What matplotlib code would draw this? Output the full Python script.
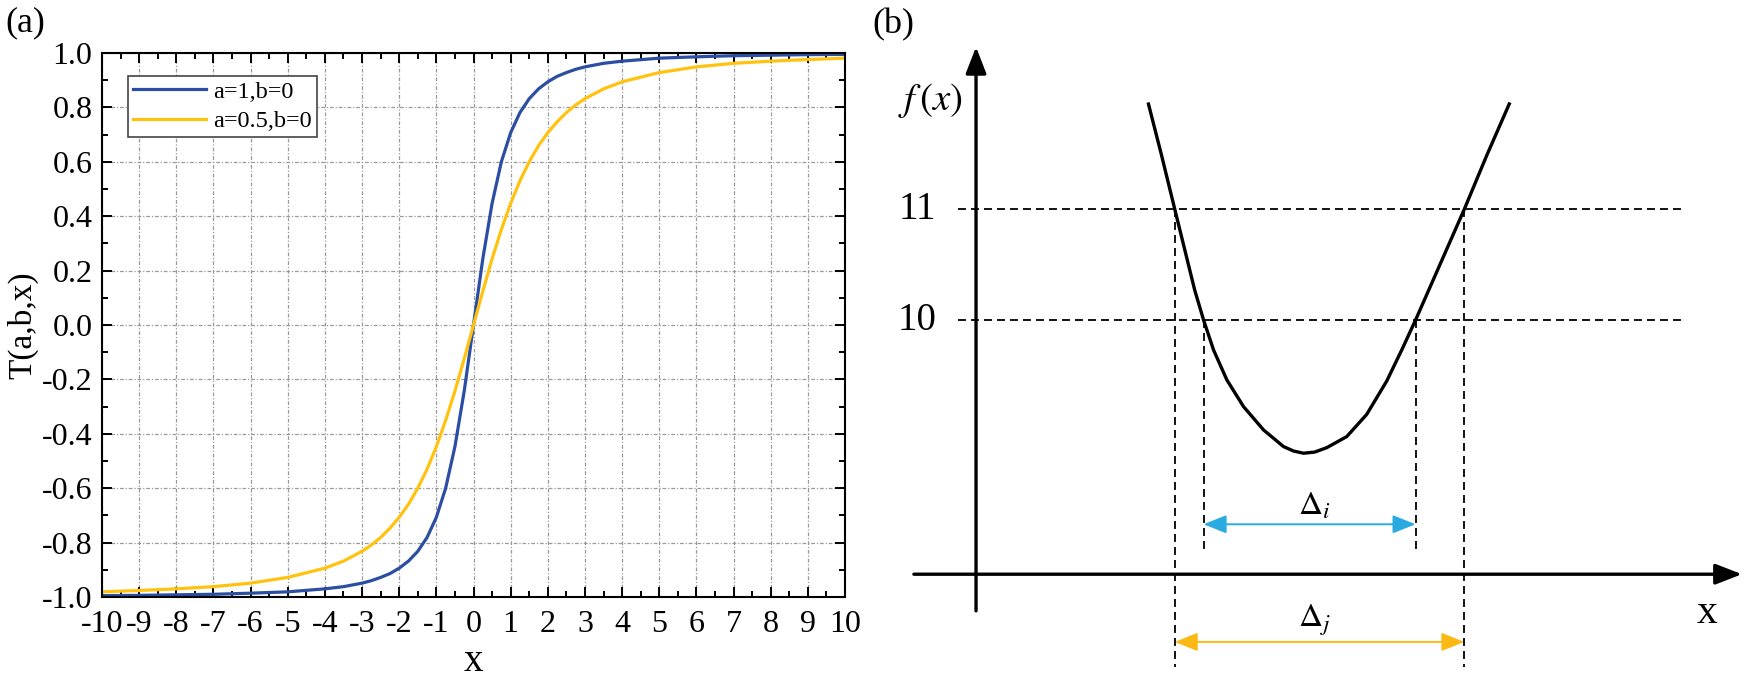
import matplotlib
matplotlib.use("Agg")
import matplotlib.pyplot as plt
from matplotlib.ticker import MultipleLocator, FormatStrFormatter

plt.rcParams["font.family"] = ["Liberation Serif", "DejaVu Serif"]
plt.rcParams["mathtext.fontset"] = "stix"
plt.rcParams["axes.unicode_minus"] = False

# ---- panel (a): values ----
x_vals = [-10, -9, -8, -7, -6, -5, -4, -3.5, -3, -2.75, -2.5, -2.25, -2, -1.75, -1.5,
          -1.25, -1, -0.75, -0.5, -0.25, 0, 0.25, 0.5, 0.75, 1, 1.25, 1.5, 1.75, 2,
          2.25, 2.5, 2.75, 3, 3.5, 4, 5, 6, 7, 8, 9, 10]
t_a1 = [-0.995, -0.994, -0.992, -0.990, -0.986, -0.981, -0.970, -0.962, -0.949, -0.940,
        -0.928, -0.914, -0.894, -0.868, -0.832, -0.781, -0.707, -0.600, -0.447, -0.243,
        0.0, 0.243, 0.447, 0.600, 0.707, 0.781, 0.832, 0.868, 0.894, 0.914, 0.928,
        0.940, 0.949, 0.962, 0.970, 0.981, 0.986, 0.990, 0.992, 0.994, 0.995]
t_a05 = [-0.981, -0.976, -0.970, -0.962, -0.949, -0.928, -0.894, -0.868, -0.832, -0.809,
         -0.781, -0.747, -0.707, -0.659, -0.600, -0.530, -0.447, -0.351, -0.243, -0.124,
         0.0, 0.124, 0.243, 0.351, 0.447, 0.530, 0.600, 0.659, 0.707, 0.747, 0.781,
         0.809, 0.832, 0.868, 0.894, 0.928, 0.949, 0.962, 0.970, 0.976, 0.981]
labels_a = ["a=1,b=0", "a=0.5,b=0"]
colors_a = ["#2b4ea3", "#ffc30f"]

# ---- panel (b): schematic, in its own units ----
curve_u = [1.55, 1.67, 1.79, 1.97, 2.05, 2.14, 2.26, 2.41, 2.59, 2.77, 2.86, 2.95, 3.05,
           3.16, 3.34, 3.52, 3.70, 3.84, 3.96, 4.18, 4.40, 4.60, 4.81]
curve_f = [11.96, 11.49, 11.0, 10.27, 10.0, 9.73, 9.46, 9.22, 9.01, 8.86, 8.82, 8.80,
           8.81, 8.85, 8.95, 9.15, 9.45, 9.74, 10.0, 10.5, 11.0, 11.48, 11.96]
levels = [10, 11]
cross_i = [2.05, 3.96]   # where f = 10
cross_j = [1.79, 4.40]   # where f = 11
axis_f = 7.71

fig = plt.figure(figsize=(17.44, 6.78), dpi=100)

ax = fig.add_axes([102 / 1744, 81 / 678, 743 / 1744, 544 / 678])
for y, lab, c in zip([t_a1, t_a05], labels_a, colors_a):
    ax.plot(x_vals, y, color=c, lw=2.3, label=lab)
ax.set_xlim(-10, 10)
ax.set_ylim(-1, 1)
ax.xaxis.set_major_locator(MultipleLocator(1))
ax.xaxis.set_minor_locator(MultipleLocator(0.5))
ax.yaxis.set_major_locator(MultipleLocator(0.2))
ax.yaxis.set_minor_locator(MultipleLocator(0.1))
ax.yaxis.set_major_formatter(FormatStrFormatter("%.1f"))
ax.tick_params(which="both", direction="in", top=True, right=True, width=1.4, labelsize=23)
ax.tick_params(which="major", length=7)
ax.tick_params(which="minor", length=4)
ax.tick_params(axis="x", pad=9)
ax.tick_params(axis="y", pad=7)
ax.grid(True, which="major", color="#9a9a9a", lw=0.9, linestyle=(0, (3, 1.5, 1, 1.5)))
for s in ax.spines.values():
    s.set_linewidth(1.5)
ax.set_xlabel("x", fontsize=28)
ax.xaxis.set_label_coords(0.5, -0.085)
ax.set_ylabel("T(a,b,x)", fontsize=24)
ax.yaxis.set_label_coords(-0.085, 0.5)
ax.legend(loc="upper left", bbox_to_anchor=(128 / 1744, 1 - 76 / 678),
          bbox_transform=fig.transFigure, fancybox=False, framealpha=1,
          edgecolor="#444444", fontsize=17.5, borderpad=0.2, handlelength=3.0,
          handletextpad=0.3, labelspacing=0.3, borderaxespad=0)
ax.get_legend().get_frame().set_linewidth(1.2)

fig.text(5 / 1744, 1 - 23 / 678, "(a)", fontsize=26, ha="left", va="center")
fig.text(872 / 1744, 1 - 25 / 678, "(b)", fontsize=26, ha="left", va="center")

# ---- panel (b) ----
bx = fig.add_axes([900 / 1744, 0, 844 / 1744, 1])
bx.set_xlim(-0.685, 6.919)
bx.set_ylim(6.775, 12.883)
bx.axis("off")

dash = (0, (4.4, 2.8))
for lv in levels:
    bx.plot([-0.16, 6.36], [lv, lv], color="black", lw=1.3, linestyle=dash)
for u in cross_j:
    bx.plot([u, u], [11, 6.87], color="black", lw=1.3, linestyle=dash)
for u in cross_i:
    bx.plot([u, u], [10, 7.92], color="black", lw=1.3, linestyle=dash)

bx.plot(curve_u, curve_f, color="black", lw=2.4, solid_capstyle="butt",
        solid_joinstyle="round")

ax_arrow = dict(arrowstyle="-|>,head_length=0.9,head_width=0.35", lw=2.4,
                color="black", shrinkA=0, shrinkB=0, mutation_scale=18)
bx.annotate("", xy=(0, 12.46), xytext=(0, 7.38), arrowprops=ax_arrow)
bx.annotate("", xy=(6.90, axis_f), xytext=(-0.56, axis_f), arrowprops=ax_arrow)

bx.annotate("", xy=(cross_i[1], 8.16), xytext=(cross_i[0], 8.16),
            arrowprops=dict(arrowstyle="<|-|>,head_length=1.0,head_width=0.4", lw=1.4,
                            color="#29abe2", shrinkA=0, shrinkB=0, mutation_scale=14))
bx.annotate("", xy=(cross_j[1], 7.10), xytext=(cross_j[0], 7.10),
            arrowprops=dict(arrowstyle="<|-|>,head_length=1.0,head_width=0.4", lw=1.4,
                            color="#fcb813", shrinkA=0, shrinkB=0, mutation_scale=14))

bx.text(3.05, 8.32, r"$\Delta_i$", fontsize=24, ha="center", va="center")
bx.text(3.05, 7.30, r"$\Delta_j$", fontsize=24, ha="center", va="center")
bx.text(-0.41, 11.98, r"$f\,(x)$", fontsize=28, ha="center", va="center")
bx.text(-0.53, 11.0, "11", fontsize=28, ha="center", va="center")
bx.text(-0.53, 10.0, "10", fontsize=28, ha="center", va="center")
bx.text(6.59, 7.36, "x", fontsize=30, ha="center", va="center")

fig.savefig("out.png", dpi=100)
